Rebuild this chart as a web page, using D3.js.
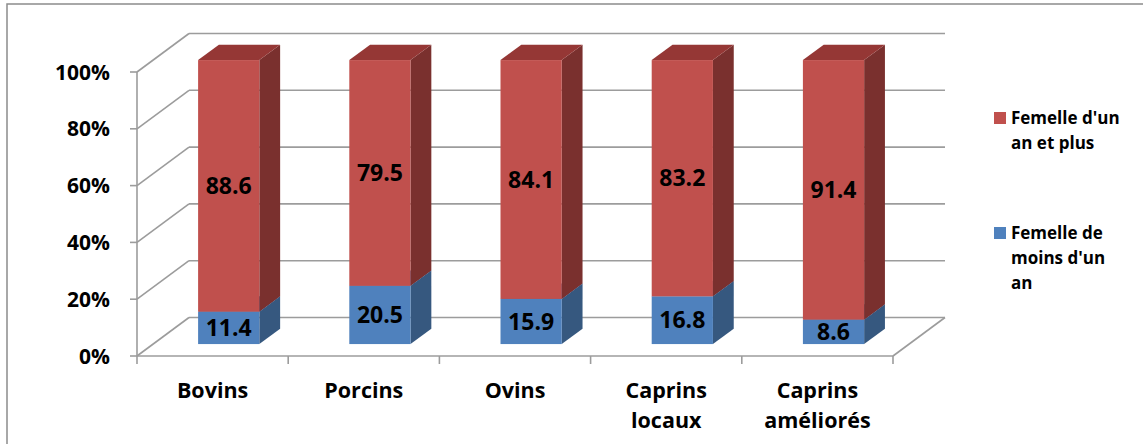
<!DOCTYPE html>
<html><head><meta charset="utf-8">
<script src="https://cdn.jsdelivr.net/npm/d3@7"></script>
<style>body{margin:0;background:#fff}svg{display:block}text{font-family:"Open Sans",Lato,sans-serif;font-weight:bold;fill:#000}</style>
</head><body><svg id="c" width="1143" height="444"></svg>
<script>
const categories = [["Bovins"],["Porcins"],["Ovins"],["Caprins","locaux"],["Caprins","améliorés"]];
const catKeys = ["Bovins","Porcins","Ovins","Caprins locaux","Caprins améliorés"];
const moinsUnAn = [11.4, 20.5, 15.9, 16.8, 8.6];
const unAnEtPlus = [88.6, 79.5, 84.1, 83.2, 91.4];
const seriesNames = [["Femelle d'un","an et plus"],["Femelle de","moins d'un","an"]];
const tickValues = [0,20,40,60,80,100];

const svg = d3.select("#c");
const x = d3.scaleBand().domain(catKeys).range([137,893]).padding(0);
const y = d3.scaleLinear().domain([0,100]).range([356,72]);
const DX = 52, DY = -38.5;            // full depth offset
const fd = 0.31, td = 0.40;           // bar front depth fraction, thickness
const bw = x.step()*0.405;

// outer frame
svg.append("rect").attr("x",7).attr("y",4).attr("width",1150).attr("height",460)
  .attr("fill","none").attr("stroke","#8c8c8c").attr("stroke-width",1.5);

const grid = svg.append("g").attr("stroke","#9c9c9c").attr("stroke-width",1.6).attr("fill","none");
const x0 = x.range()[0], x1 = x.range()[1];
tickValues.forEach(v=>{
  grid.append("line").attr("x1",x0+DX).attr("x2",x1+DX).attr("y1",y(v)+DY).attr("y2",y(v)+DY);
  grid.append("line").attr("x1",x0).attr("x2",x0+DX).attr("y1",y(v)).attr("y2",y(v)+DY);
  grid.append("line").attr("x1",x0-7).attr("x2",x0).attr("y1",y(v)).attr("y2",y(v));
});
grid.append("line").attr("x1",x0).attr("x2",x0).attr("y1",y(0)).attr("y2",y(100));
grid.append("line").attr("x1",x0).attr("x2",x1).attr("y1",y(0)).attr("y2",y(0));
grid.append("line").attr("x1",x1).attr("x2",x1+DX).attr("y1",y(0)).attr("y2",y(0)+DY);
d3.range(catKeys.length+1).forEach(i=>{
  const xx = x0 + i*x.step();
  grid.append("line").attr("x1",xx).attr("x2",xx).attr("y1",y(0)).attr("y2",y(0)+8);
});

// y labels
svg.append("g").selectAll("text").data(tickValues).join("text")
  .attr("x",110).attr("y",v=>y(v)).attr("dy","0.36em").attr("text-anchor","end")
  .attr("font-size",21).text(v=>v+"%");

// category labels
const cl = svg.append("g").selectAll("text").data(categories).join("text")
  .attr("text-anchor","middle").attr("font-size",21.5)
  .attr("transform",(d,i)=>`translate(${x(catKeys[i])+x.step()/2},398)`);
cl.selectAll("tspan").data(d=>d).join("tspan").attr("x",0).attr("dy",(d,i)=>i?30:0).text(d=>d);

const colors = [
  {front:"#4f81bd", side:"#36587f", top:"#4470a6"},
  {front:"#c0504d", side:"#7a302e", top:"#953735"}
];
function drawBox(g, cx, v0, v1, c){
  const fx0 = cx + fd*DX - bw/2, fx1 = fx0 + bw, oy = fd*DY;
  const yb = y(v0)+oy, yt = y(v1)+oy;
  const tx = td*DX, ty = td*DY;
  g.append("path").attr("fill",c.side)
    .attr("d",`M${fx1},${yb}L${fx1+tx},${yb+ty}L${fx1+tx},${yt+ty}L${fx1},${yt}Z`);
  g.append("path").attr("fill",c.top)
    .attr("d",`M${fx0},${yt}L${fx1},${yt}L${fx1+tx},${yt+ty}L${fx0+tx},${yt+ty}Z`);
  g.append("rect").attr("fill",c.front).attr("x",fx0).attr("y",yt).attr("width",bw).attr("height",yb-yt);
  return {cx: (fx0+fx1)/2, cy:(yb+yt)/2};
}
const bars = svg.append("g");
catKeys.forEach((k,i)=>{
  const cx = x(k)+x.step()/2;
  const g = bars.append("g");
  const a = drawBox(g, cx, 0, moinsUnAn[i], colors[0]);
  const b = drawBox(g, cx, moinsUnAn[i], 100, colors[1]);
  g.append("text").attr("x",a.cx).attr("y",a.cy).attr("dy","0.36em").attr("text-anchor","middle").attr("font-size",23).text(moinsUnAn[i].toFixed(1));
  g.append("text").attr("x",b.cx).attr("y",b.cy).attr("dy","0.36em").attr("text-anchor","middle").attr("font-size",23).text(unAnEtPlus[i].toFixed(1));
});

// legend
const legY = [118, 233];
const legC = [colors[1].front, colors[0].front];
seriesNames.forEach((lines,i)=>{
  svg.append("rect").attr("x",994).attr("y",legY[i]-6).attr("width",12).attr("height",12).attr("fill",legC[i]);
  const t = svg.append("text").attr("x",1011).attr("y",legY[i]).attr("font-size",17);
  t.selectAll("tspan").data(lines).join("tspan").attr("x",1011).attr("dy",(d,j)=>j?25:"0.36em").text(d=>d);
});
</script></body></html>
